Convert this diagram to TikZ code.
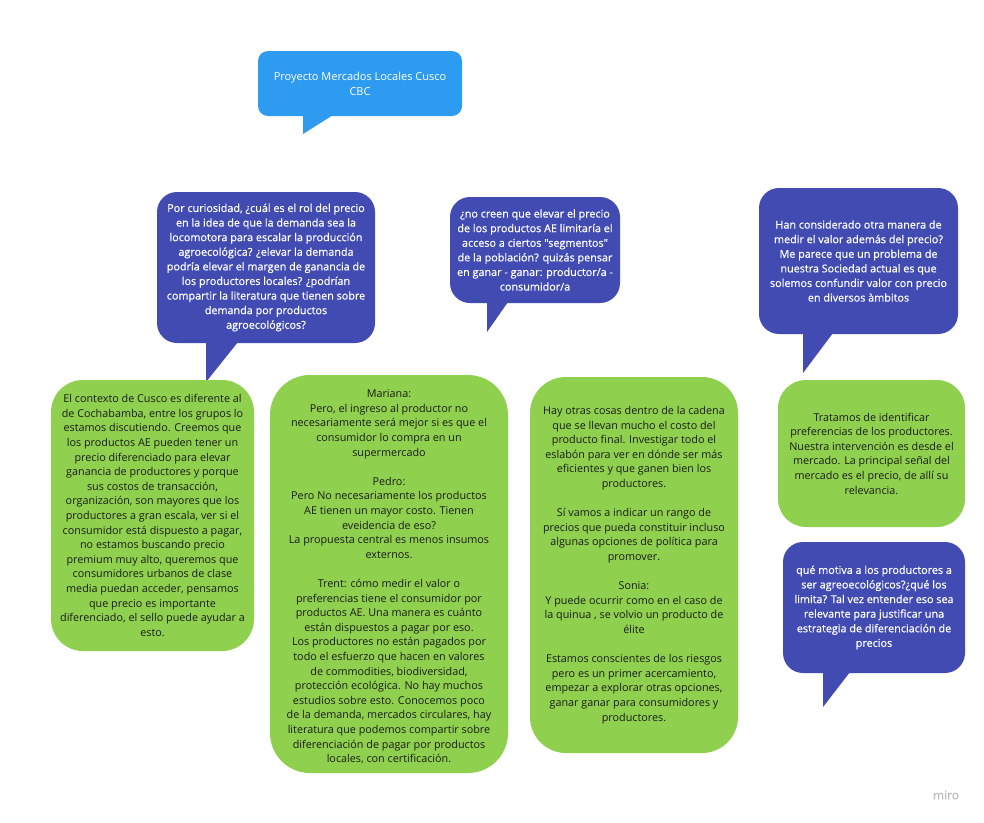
\documentclass[tikz,border=0pt]{standalone}
\usepackage{fontspec}
\setmainfont{Open Sans}
\newfontfamily\semib[FakeBold=0.6]{Open Sans}
\definecolor{titleblue}{HTML}{2D9BF0}
\definecolor{qpurple}{HTML}{414BB2}
\definecolor{agreen}{HTML}{8FD14F}
\definecolor{atext}{HTML}{1A1A1A}
\definecolor{mirogray}{HTML}{BDBDBD}
\tikzset{
  txt/.style={align=center, font={\fontsize{10.8}{14.6}\selectfont}},
  qbox/.style={txt, fill=qpurple, text=white, rounded corners=20pt, inner sep=0pt, font={\semib\fontsize{10.8}{14.6}\selectfont}},
  tbox/.style={txt, fill=titleblue, text=white, rounded corners=10pt, inner sep=0pt, font={\fontsize{11}{15}\selectfont}},
  abox/.style={txt, fill=agreen, text=atext, inner sep=0pt},
  qtail/.style={fill=qpurple},
  ttail/.style={fill=titleblue}
}
\begin{document}
\begin{tikzpicture}[x=1pt,y=-1pt]
\fill[white] (0,0) rectangle (984,822);
\useasboundingbox (0,0) rectangle (984,822);

% title bubble
\node[tbox, minimum width=204pt, minimum height=65pt] (title) at (360,83.5)
  {Proyecto Mercados Locales Cusco\\CBC};
\fill[ttail] (303,115) -- (333,115) -- (303,134) -- cycle;

% purple question bubbles
\node[qbox, minimum width=218pt, minimum height=151pt] (p1) at (266,267.5)
  {Por curiosidad, ¿cuál es el rol del precio\\
   en la idea de que la demanda sea la\\
   locomotora para escalar la producción\\
   agroecológica? ¿elevar la demanda\\
   podría elevar el margen de ganancia de\\
   los productores locales? ¿podrían\\
   compartir la literatura que tienen sobre\\
   demanda por productos\\
   agroecológicos?};
\fill[qtail] (206,342) -- (238,342) -- (206,382) -- cycle;

\node[qbox, minimum width=170pt, minimum height=106pt] (p2) at (535,250)
  {¿no creen que elevar el precio\\
   de los productos AE limitaría el\\
   acceso a ciertos "segmentos"\\
   de la población? quizás pensar\\
   en ganar - ganar: productor/a -\\
   consumidor/a};
\fill[qtail] (487,302) -- (508,302) -- (487,332) -- cycle;

\node[qbox, minimum width=199pt, minimum height=146pt] (p3) at (858.5,261)
  {Han considerado otra manera de\\
   medir el valor además del precio?\\
   Me parece que un problema de\\
   nuestra Sociedad actual es que\\
   solemos confundir valor con precio\\
   en diversos àmbitos};
\fill[qtail] (803,333) -- (833,333) -- (803,373) -- cycle;

\node[qbox, minimum width=182pt, minimum height=131pt] (p4) at (874,607.5)
  {qué motiva a los productores a\\
   ser agreoecológicos?¿qué los\\
   limita? Tal vez entender eso sea\\
   relevante para justificar una\\
   estrategia de diferenciación de\\
   precios};
\fill[qtail] (823,672) -- (850,672) -- (823,707) -- cycle;

% green answer boxes
\node[abox, rounded corners=32pt, minimum width=203pt, minimum height=271pt] (g1) at (152.5,515.5)
  {El contexto de Cusco es diferente al\\
   de Cochabamba, entre los grupos lo\\
   estamos discutiendo. Creemos que\\
   los productos AE pueden tener un\\
   precio diferenciado para elevar\\
   ganancia de productores y porque\\
   sus costos de transacción,\\
   organización, son mayores que los\\
   productores a gran escala, ver si el\\
   consumidor está dispuesto a pagar,\\
   no estamos buscando precio\\
   premium muy alto, queremos que\\
   consumidores urbanos de clase\\
   media puedan acceder, pensamos\\
   que precio es importante\\
   diferenciado, el sello puede ayudar a\\
   esto.};

\node[abox, rounded corners=40pt, minimum width=238pt, minimum height=398pt] (g2) at (389,574) {};
\begin{scope}
\clip (270,375) rectangle (508,762);
\node[txt, text=atext, anchor=north, inner sep=0pt] (g2t) at (389,389.5)
  {Mariana:\\
   Pero, el ingreso al productor no\\
   necesariamente será mejor si es que el\\
   consumidor lo compra en un\\
   supermercado\\[14.6pt]
   Pedro:\\
   Pero No necesariamente los productos\\
   AE tienen un mayor costo. Tienen\\
   eveidencia de eso?\\
   La propuesta central es menos insumos\\
   externos.\\[14.6pt]
   Trent: cómo medir el valor o\\
   preferencias tiene el consumidor por\\
   productos AE. Una manera es cuánto\\
   están dispuestos a pagar por eso.\\
   Los productores no están pagados por\\
   todo el esfuerzo que hacen en valores\\
   de commodities, biodiversidad,\\
   protección ecológica. No hay muchos\\
   estudios sobre esto. Conocemos poco\\
   de la demanda, mercados circulares, hay\\
   literatura que podemos compartir sobre\\
   diferenciación de pagar por productos\\
   locales, con certificación.};
\end{scope}

\node[abox, rounded corners=36pt, minimum width=208pt, minimum height=376pt] (g3) at (634,565)
  {Hay otras cosas dentro de la cadena\\
   que se llevan mucho el costo del\\
   producto final. Investigar todo el\\
   eslabón para ver en dónde ser más\\
   eficientes y que ganen bien los\\
   productores.\\[14.6pt]
   Sí vamos a indicar un rango de\\
   precios que pueda constituir incluso\\
   algunas opciones de política para\\
   promover.\\[14.6pt]
   Sonia:\\
   Y puede ocurrir como en el caso de\\
   la quinua , se volvio un producto de\\
   élite\\[14.6pt]
   Estamos conscientes de los riesgos\\
   pero es un primer acercamiento,\\
   empezar a explorar otras opciones,\\
   ganar ganar para consumidores y\\
   productores.};

\node[abox, rounded corners=28pt, minimum width=187pt, minimum height=147pt] (g4) at (871.5,453.5)
  {Tratamos de identificar\\
   preferencias de los productores.\\
   Nuestra intervención es desde el\\
   mercado. La principal señal del\\
   mercado es el precio, de allí su\\
   relevancia.};

% watermark
\node[text=mirogray, font={\semib\fontsize{12}{14}\selectfont}, inner sep=0pt] (miro) at (946,795) {miro};
\end{tikzpicture}
\end{document}
